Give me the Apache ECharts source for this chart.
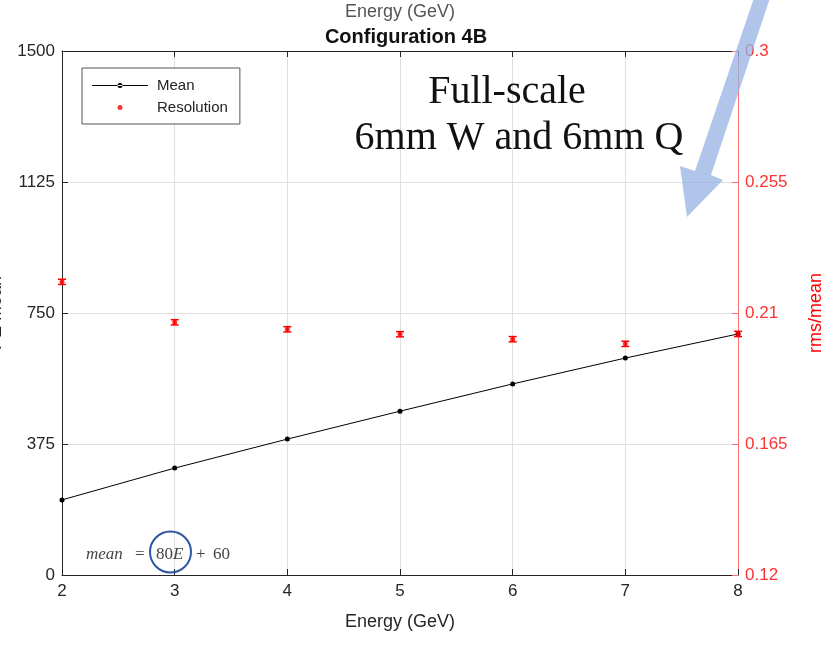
<!DOCTYPE html>
<html><head><meta charset="utf-8">
<script src="https://cdn.jsdelivr.net/npm/echarts@6/dist/echarts.min.js"></script>
<style>html,body{margin:0;padding:0;background:#fff}#c{width:824px;height:646px}</style>
</head><body><div id="c"></div>
<script>
const energies = [2, 3, 4, 5, 6, 7, 8];
const peMean = [215, 306, 389, 469, 547, 621, 690];
const resolution = [0.2207, 0.2068, 0.2044, 0.2027, 0.2010, 0.1994, 0.2028];
const resError = [0.0009, 0.0009, 0.0009, 0.0009, 0.0009, 0.0009, 0.0009];
const leftTicks = [0, 375, 750, 1125, 1500];
const rightTicks = [0.12, 0.165, 0.21, 0.255, 0.3];

const chart = echarts.init(document.getElementById('c'));
const sans = 'Liberation Sans, Arial, sans-serif';
const serif = 'Liberation Serif, Times New Roman, serif';
const axisGrey = '#262626';

const meanData = energies.map((e, i) => [e, peMean[i]]);
const resData = energies.map((e, i) => [e, resolution[i]]);
const errData = energies.map((e, i) => [e, resolution[i] - resError[i], resolution[i] + resError[i]]);

function txt(x, y, s, opts) {
  return { type: 'text', x: x, y: y, z: 20, style: Object.assign({ text: s, fill: '#444', verticalAlign: 'middle', align: 'left' }, opts) };
}

chart.setOption({
  animation: false,
  backgroundColor: '#fff',
  title: {
    text: 'Configuration 4B', left: 401, top: 22, textAlign: 'center',
    textStyle: { fontFamily: sans, fontSize: 20, fontWeight: 'bold', color: '#111' }
  },
  grid: { left: 62, right: 86, top: 51, bottom: 71, containLabel: false, outerBoundsMode: 'none' },
  xAxis: [{
    type: 'value', min: 2, max: 8, interval: 1, position: 'bottom',
    name: 'Energy (GeV)', nameLocation: 'middle', nameGap: 38,
    nameTextStyle: { fontFamily: sans, fontSize: 18, color: axisGrey },
    axisLine: { lineStyle: { color: axisGrey } },
    axisTick: { inside: true, length: 6, lineStyle: { color: axisGrey } },
    axisLabel: { fontFamily: sans, fontSize: 17, color: axisGrey, margin: 8 },
    splitLine: { show: true, lineStyle: { color: '#e0e0e0' } }
  }, {
    type: 'value', min: 2, max: 8, interval: 1, position: 'top',
    name: 'Energy (GeV)', nameLocation: 'middle', nameGap: 30,
    nameTextStyle: { fontFamily: sans, fontSize: 18, color: '#555' },
    axisLine: { lineStyle: { color: axisGrey } },
    axisTick: { inside: true, length: 6, lineStyle: { color: axisGrey } },
    axisLabel: { show: false }, splitLine: { show: false }
  }],
  yAxis: [{
    type: 'value', min: 0, max: 1500, interval: 375, position: 'left',
    name: 'PE Mean', nameLocation: 'middle', nameGap: 57, nameRotate: 90,
    nameTextStyle: { fontFamily: sans, fontSize: 18, color: axisGrey },
    axisLine: { show: true, lineStyle: { color: axisGrey } },
    axisTick: { show: true, inside: true, length: 6, lineStyle: { color: axisGrey } },
    axisLabel: { fontFamily: sans, fontSize: 17, color: axisGrey, margin: 7, formatter: v => String(v) },
    splitLine: { show: true, lineStyle: { color: '#e0e0e0' } }
  }, {
    type: 'value', min: 0.12, max: 0.3, interval: 0.045, position: 'right',
    name: 'rms/mean', nameLocation: 'middle', nameGap: 69, nameRotate: 90,
    nameTextStyle: { fontFamily: sans, fontSize: 18, color: '#ff0000' },
    axisLine: { show: true, lineStyle: { color: '#ff7070' } },
    axisTick: { show: true, inside: true, length: 6, lineStyle: { color: '#ff7070' } },
    axisLabel: { fontFamily: sans, fontSize: 17, color: '#ff3333', margin: 7,
      formatter: v => (Math.round(v * 1000) / 1000).toString() },
    splitLine: { show: false }
  }],
  legend: {
    left: 82, top: 68, orient: 'vertical', align: 'left', itemGap: 7, itemWidth: 56, itemHeight: 10,
    padding: [10, 12, 9, 10], borderColor: '#555', borderWidth: 1, backgroundColor: '#fff',
    textStyle: { fontFamily: sans, fontSize: 15, color: '#222', padding: [0, 0, 0, 4] },
    data: [
      { name: 'Mean', icon: 'path://M0,4.6L56,4.6L56,5.4L0,5.4Z M25.5,5a2.5,2.5 0 1,0 5,0a2.5,2.5 0 1,0 -5,0Z', itemStyle: { color: '#000' } },
      { name: 'Resolution', icon: 'path://M0,0L0.01,0L0.01,0.01Z M56,10L55.99,10L55.99,9.99Z M25.5,5a2.5,2.5 0 1,0 5,0a2.5,2.5 0 1,0 -5,0Z', itemStyle: { color: '#ff0000' } }
    ]
  },
  series: [{
    name: 'Mean', type: 'line', xAxisIndex: 0, yAxisIndex: 0, data: meanData,
    symbol: 'circle', symbolSize: 5, showSymbol: true,
    lineStyle: { color: '#000', width: 1 }, itemStyle: { color: '#000' }, z: 5
  }, {
    name: 'Resolution', type: 'scatter', xAxisIndex: 0, yAxisIndex: 1, data: resData,
    symbol: 'circle', symbolSize: 5, itemStyle: { color: '#ff0000' }, z: 6
  }, {
    name: 'ResErr', type: 'custom', xAxisIndex: 0, yAxisIndex: 1, data: errData,
    z: 6,
    renderItem: function (params, api) {
      const x = api.value(0);
      const lo = api.coord([x, api.value(1)]);
      const hi = api.coord([x, api.value(2)]);
      const w = 4;
      const st = { stroke: '#ff0000', lineWidth: 1.5 };
      return { type: 'group', children: [
        { type: 'line', shape: { x1: lo[0], y1: lo[1], x2: hi[0], y2: hi[1] }, style: st },
        { type: 'line', shape: { x1: lo[0] - w, y1: lo[1], x2: lo[0] + w, y2: lo[1] }, style: st },
        { type: 'line', shape: { x1: hi[0] - w, y1: hi[1], x2: hi[0] + w, y2: hi[1] }, style: st }
      ]};
    }
  }],
  graphic: [
    { type: 'text', x: 507, y: 92, style: { text: 'Full-scale', font: '40px ' + serif, fill: '#111', align: 'center', verticalAlign: 'middle' }, z: 20 },
    { type: 'text', x: 519, y: 138, style: { text: '6mm W and 6mm Q', font: '40px ' + serif, fill: '#111', align: 'center', verticalAlign: 'middle' }, z: 20 },
    txt(86, 555, 'mean', { font: 'italic 17px ' + serif }),
    txt(135, 555, '=', { font: '17px ' + serif }),
    txt(156, 555, '80', { font: '17px ' + serif }),
    txt(173, 555, 'E', { font: 'italic 17px ' + serif }),
    txt(196, 555, '+', { font: '17px ' + serif }),
    txt(213, 555, '60', { font: '17px ' + serif }),
    { type: 'circle', shape: { cx: 170.5, cy: 552, r: 20.5 }, style: { fill: 'none', stroke: '#2f56a0', lineWidth: 2 }, z: 21 },
    { type: 'polygon', shape: { points: [[755, -5], [771, -5], [711, 175], [723, 180], [687, 217], [680, 166], [695, 171]] },
      style: { fill: 'rgba(150,178,225,0.75)' }, z: 22 }
  ]
});
</script></body></html>
